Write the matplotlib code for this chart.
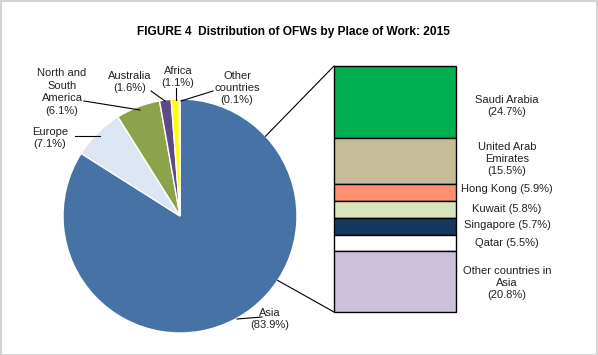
import numpy as np
import matplotlib
matplotlib.use("Agg")
from matplotlib import pyplot as plt
from matplotlib.patches import Rectangle

plt.rcParams['font.family'] = ['Liberation Sans', 'DejaVu Sans']

# pie data (clockwise from 12 o'clock)
regions = ["Asia", "Europe", "North and South America", "Australia", "Africa", "Other countries"]
region_share = [83.9, 7.1, 6.1, 1.6, 1.1, 0.1]
region_colors = ["#4672a6", "#dce6f2", "#8ca34b", "#5e4b85", "#ffff00", "#f2f2f2"]

# breakdown of Asia (top to bottom)
asia = ["Saudi Arabia", "United Arab Emirates", "Hong Kong", "Kuwait", "Singapore", "Qatar",
        "Other countries in Asia"]
asia_share = [24.7, 15.5, 5.9, 5.8, 5.7, 5.5, 20.8]
asia_colors = ["#00b050", "#c4bd97", "#ff8f6f", "#d7e4bd", "#17375e", "#ffffff", "#ccc0da"]

W, H = 598, 355
fig = plt.figure(figsize=(W / 100, H / 100), dpi=100)
ax = fig.add_axes([0, 0, 1, 1])

# frame
ax.add_patch(Rectangle((0.5, 0.5), W - 1.5, H - 1.5, fill=False, ec="#d4d4d4", lw=1.5))

ax.text(293, H - 32, "FIGURE 4  Distribution of OFWs by Place of Work: 2015",
        ha="center", va="center", fontsize=8.6, fontweight="bold")

cx, cy, r = 180, H - 216, 117
ax.pie(region_share, colors=region_colors, startangle=90, counterclock=False,
       center=(cx, cy), radius=r, frame=True,
       wedgeprops=dict(edgecolor="white", linewidth=1))
ax.set_xlim(0, W)
ax.set_ylim(0, H)
ax.axis("off")

fs = 8
def lab(x, y, s):
    ax.text(x, H - y, s, ha="center", va="center", fontsize=fs, color="#222222", linespacing=1.3)

def line(pts):
    xs = [p[0] for p in pts]
    ys = [H - p[1] for p in pts]
    ax.plot(xs, ys, color="black", lw=0.8)

lab(62, 92, "North and\nSouth\nAmerica\n(6.1%)")
line([(84, 101), (140, 110)])
lab(130, 82, "Australia\n(1.6%)")
line([(151, 91), (165, 101)])
lab(178, 77, "Africa\n(1.1%)")
line([(176, 88), (176, 100)])
lab(237, 88, "Other\ncountries\n(0.1%)")
line([(213, 91), (181, 101)])
lab(50, 138, "Europe\n(7.1%)")
line([(75, 136), (100, 136)])
lab(270, 319, "Asia\n(83.9%)")
line([(237, 319), (262, 317)])

# stacked box for Asia
bx0, bx1 = 334, 456
btop, bh = H - 66, 246
scale = bh / sum(asia_share)
bottoms = btop - np.cumsum(asia_share) * scale
heights = np.array(asia_share) * scale
ax.bar([(bx0 + bx1) / 2] * len(asia), heights, bottom=bottoms, width=bx1 - bx0,
       color=asia_colors, edgecolor="black", linewidth=1)

# connectors
a1, a2 = np.radians(43), np.radians(-33.4)
ax.plot([cx + r * np.cos(a1), bx0], [cy + r * np.sin(a1), btop], color="black", lw=0.8)
ax.plot([cx + r * np.cos(a2), bx0], [cy + r * np.sin(a2), btop - bh], color="black", lw=0.8)

lab(507, 106, "Saudi Arabia\n(24.7%)")
lab(507, 159, "United Arab\nEmirates\n(15.5%)")
lab(507, 189, "Hong Kong (5.9%)")
lab(507, 209, "Kuwait (5.8%)")
lab(507, 225, "Singapore (5.7%)")
lab(507, 243, "Qatar (5.5%)")
lab(507, 283, "Other countries in\nAsia\n(20.8%)")

fig.savefig("out.png", dpi=100)
